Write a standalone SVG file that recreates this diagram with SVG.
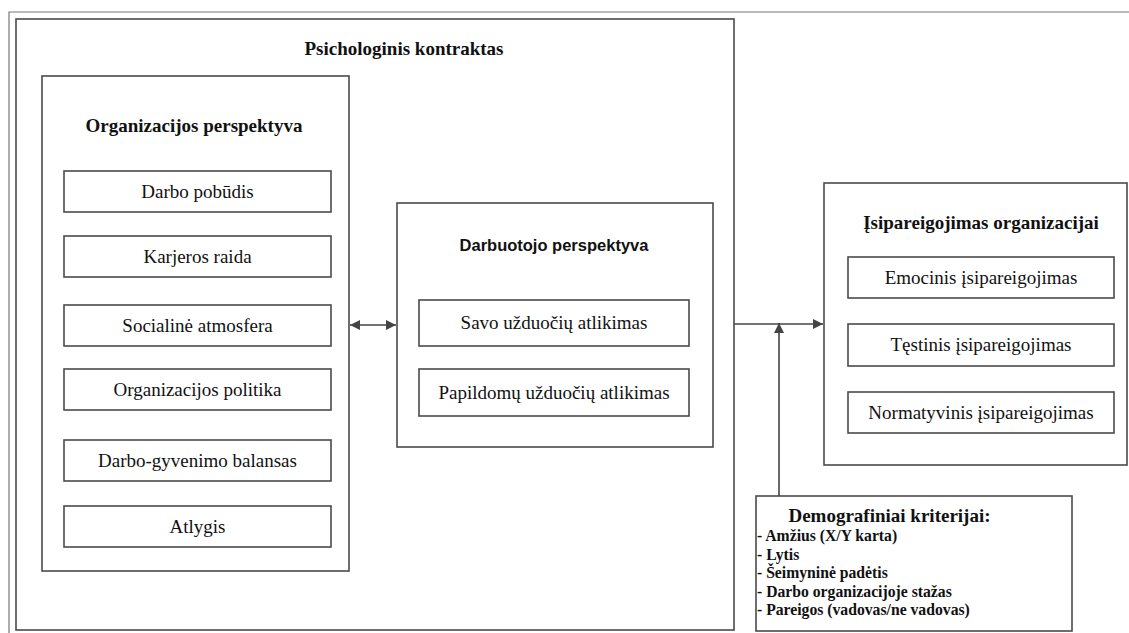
<svg xmlns="http://www.w3.org/2000/svg" width="1129" height="633" viewBox="0 0 1129 633">
<style>
.box{fill:#fff;stroke:#4a4a4a;stroke-width:1.6}
.t{font-family:"Liberation Serif","Times New Roman",serif;font-size:19px;fill:#111;text-anchor:middle}
.b{font-weight:bold}
.s{font-family:"Liberation Sans",Arial,sans-serif;font-size:16.5px;font-weight:bold;fill:#111;text-anchor:middle}
.d{font-family:"Liberation Serif","Times New Roman",serif;font-size:15.7px;font-weight:bold;fill:#111}
.ln{stroke:#444;stroke-width:1.6;fill:none}
</style>
<defs>
<marker id="ah" viewBox="0 0 10 10" refX="10" refY="5" markerWidth="10" markerHeight="10" markerUnits="userSpaceOnUse" orient="auto-start-reverse">
<path d="M0,0 L10,5 L0,10 Z" fill="#444"/>
</marker>
</defs>
<rect width="1129" height="633" fill="#fff"/>
<g id="page">
<path d="M9,633 V12 H1129" fill="none" stroke="#777" stroke-width="1.2"/>
</g>
<g id="frame">
<rect class="box" x="16" y="19" width="718" height="611"/>
<text class="t b" x="404" y="55">Psichologinis kontraktas</text>
</g>
<g id="org">
<rect class="box" x="42" y="76" width="307" height="495"/>
<text class="t b" x="194" y="132">Organizacijos perspektyva</text>
</g>
<g id="org1"><rect class="box" x="64" y="171" width="267" height="41"/><text class="t" x="197.5" y="197.5">Darbo pobūdis</text></g>
<g id="org2"><rect class="box" x="64" y="236" width="267" height="41"/><text class="t" x="197.5" y="262.5">Karjeros raida</text></g>
<g id="org3"><rect class="box" x="64" y="305" width="267" height="41"/><text class="t" x="197.5" y="331.5">Socialinė atmosfera</text></g>
<g id="org4"><rect class="box" x="64" y="369" width="267" height="41"/><text class="t" x="197.5" y="395.5">Organizacijos politika</text></g>
<g id="org5"><rect class="box" x="64" y="440" width="267" height="41"/><text class="t" x="197.5" y="466.5">Darbo-gyvenimo balansas</text></g>
<g id="org6"><rect class="box" x="64" y="506" width="267" height="41"/><text class="t" x="197.5" y="532.5">Atlygis</text></g>
<g id="emp">
<rect class="box" x="397" y="203" width="316" height="244"/>
<text class="s" x="554" y="251">Darbuotojo perspektyva</text>
</g>
<g id="emp1"><rect class="box" x="419" y="300" width="270" height="46"/><text class="t" x="554" y="329">Savo užduočių atlikimas</text></g>
<g id="emp2"><rect class="box" x="419" y="369" width="270" height="47"/><text class="t" x="554" y="398.5">Papildomų užduočių atlikimas</text></g>
<g id="com">
<rect class="box" x="824" y="183" width="303" height="282"/>
<text class="t b" x="981" y="229">Įsipareigojimas organizacijai</text>
</g>
<g id="com1"><rect class="box" x="848" y="257" width="266" height="41"/><text class="t" x="981" y="283.5">Emocinis įsipareigojimas</text></g>
<g id="com2"><rect class="box" x="848" y="324" width="266" height="42"/><text class="t" x="981" y="351">Tęstinis įsipareigojimas</text></g>
<g id="com3"><rect class="box" x="848" y="392" width="266" height="41"/><text class="t" x="981" y="418.5">Normatyvinis įsipareigojimas</text></g>
<g id="demo">
<rect class="box" x="756" y="496" width="316" height="135"/>
<text class="t b" x="889.5" y="522">Demografiniai kriterijai:</text>
<text class="d" x="757" y="541">- Amžius (X/Y karta)</text>
<text class="d" x="757" y="559.5">- Lytis</text>
<text class="d" x="757" y="578">- Šeimyninė padėtis</text>
<text class="d" x="757" y="596.5">- Darbo organizacijoje stažas</text>
<text class="d" x="757" y="615">- Pareigos (vadovas/ne vadovas)</text>
</g>
<g id="connectors">
<line class="ln" x1="350" y1="325" x2="396" y2="325" marker-start="url(#ah)" marker-end="url(#ah)"/>
<line class="ln" x1="734" y1="324" x2="823" y2="324" marker-end="url(#ah)"/>
<line class="ln" x1="779" y1="496" x2="779" y2="323" marker-end="url(#ah)"/>
</g>
</svg>
